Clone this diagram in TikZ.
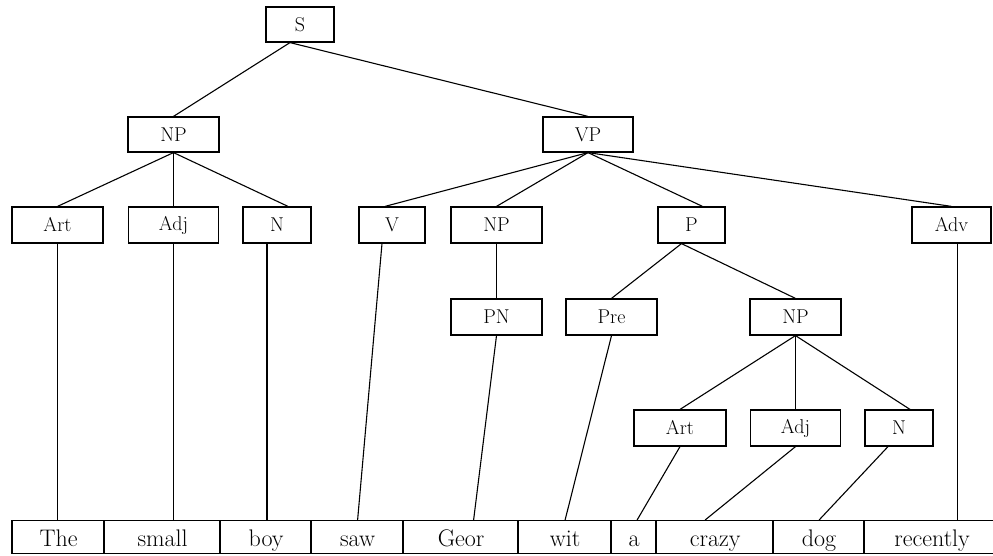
\documentclass[tikz,border=0pt]{standalone}
\usepackage{fontspec}
\tikzstyle{cat} = [draw, rectangle, line width=1.2pt, minimum height=35pt, inner sep=0pt, font=\fontsize{20}{21}\selectfont]
\tikzstyle{word} = [draw, rectangle, line width=1.2pt, minimum height=33pt, inner sep=0pt, anchor=north west, font=\fontsize{24}{25}\selectfont]
\tikzstyle{link} = [line width=1.1pt]
\newcommand{\lowword}[1]{\smash{\raisebox{-9.5pt}{#1}}}

\begin{document}
\begin{tikzpicture}[x=1pt, y=-1pt]
\useasboundingbox (0,0) rectangle (993,556);
\node [cat, minimum width=68pt] (s) at (300,24.5) {S};
\node [cat, minimum width=91pt] (np) at (173.5,134.5) {NP};
\node [cat, minimum width=90pt] (vp) at (588,134.5) {VP};

\node [cat, minimum width=91pt, minimum height=36pt] (art) at (57.5,225) {Art};
\node [cat, minimum width=90pt, minimum height=36pt] (adj) at (173.5,225) {Adj};
\node [cat, minimum width=68pt, minimum height=36pt] (n) at (277,225) {N};
\node [cat, minimum width=66pt, minimum height=36pt] (v) at (392,225) {V};
\node [cat, minimum width=91pt, minimum height=36pt] (np2) at (496.5,225) {NP};
\node [cat, minimum width=67pt, minimum height=36pt] (p) at (691.5,225) {P};
\node [cat, minimum width=79pt, minimum height=36pt] (adv) at (951.5,225) {Adv};

\node [cat, minimum width=91pt, minimum height=36pt] (pn) at (496.5,317) {PN};
\node [cat, minimum width=91pt, minimum height=36pt] (pre) at (611.5,317) {Pre};
\node [cat, minimum width=91pt, minimum height=36pt] (np3) at (795.5,317) {NP};

\node [cat, minimum width=92pt, minimum height=36pt] (art2) at (680,428) {Art};
\node [cat, minimum width=90pt, minimum height=36pt] (adj2) at (795.5,428) {Adj};
\node [cat, minimum width=68pt, minimum height=36pt] (n2) at (899,428) {N};

% sentence row
\node [word, minimum width=92pt] (the) at (12,520) {\lowword{The}};
\node [word, minimum width=116pt] (small) at (104,520) {\lowword{small}};
\node [word, minimum width=91pt] (boy) at (220,520) {\lowword{boy}};
\node [word, minimum width=92pt] (saw) at (311,520) {\lowword{saw}};
\node [word, minimum width=115pt] (geor) at (403,520) {\lowword{Geor}};
\node [word, minimum width=93pt] (wit) at (518,520) {\lowword{wit}};
\node [word, minimum width=45pt] (a) at (611,520) {\lowword{a}};
\node [word, minimum width=117pt] (crazy) at (656,520) {\lowword{crazy}};
\node [word, minimum width=91pt] (dog) at (773,520) {\lowword{dog}};
\node [word, minimum width=135pt] (recently) at (864,520) {\lowword{recently}};
\foreach \w in {the,small,boy,saw,geor,wit,a,crazy,dog,recently}
  \draw [line width=2.4pt] (\w.north west) -- (\w.south west);

\draw [link] ([xshift=-10pt]s.south) -- (np.north);
\draw [link] ([xshift=-10pt]s.south) -- (vp.north);

\draw [link] (np.south) -- (art.north);
\draw [link] (np.south) -- (adj.north);
\draw [link] (np.south) -- ([xshift=11pt]n.north);

\draw [link] (vp.south) -- ([xshift=-7pt]v.north);
\draw [link] (vp.south) -- (np2.north);
\draw [link] (vp.south) -- ([xshift=11pt]p.north);
\draw [link] (vp.south) -- (adv.north);

\draw [link] (np2.south) -- (pn.north);
\draw [link] ([xshift=-10pt]p.south) -- (pre.north);
\draw [link] ([xshift=-10pt]p.south) -- (np3.north);

\draw [link] (np3.south) -- (art2.north);
\draw [link] (np3.south) -- (adj2.north);
\draw [link] (np3.south) -- ([xshift=11pt]n2.north);

% down to the words
\draw [link] (art.south) -- (art.south |- the.north);
\draw [link] (adj.south) -- (adj.south |- small.north);
\draw [link] ([xshift=-10pt]n.south) -- ([xshift=-10pt]n.south |- boy.north);
\draw [link] ([xshift=-10pt]v.south) -- (saw.north);
\draw [link] (pn.south) -- ([xshift=12.5pt]geor.north);
\draw [link] (pre.south) -- (wit.north);
\draw [link] (art2.south) -- ([xshift=3pt]a.north);
\draw [link] (adj2.south) -- ([xshift=-10pt]crazy.north);
\draw [link] ([xshift=-11pt]n2.south) -- (dog.north);
\draw [link] ([xshift=6pt]adv.south) -- ([xshift=6pt]adv.south |- recently.north);
\end{tikzpicture}
\end{document}
